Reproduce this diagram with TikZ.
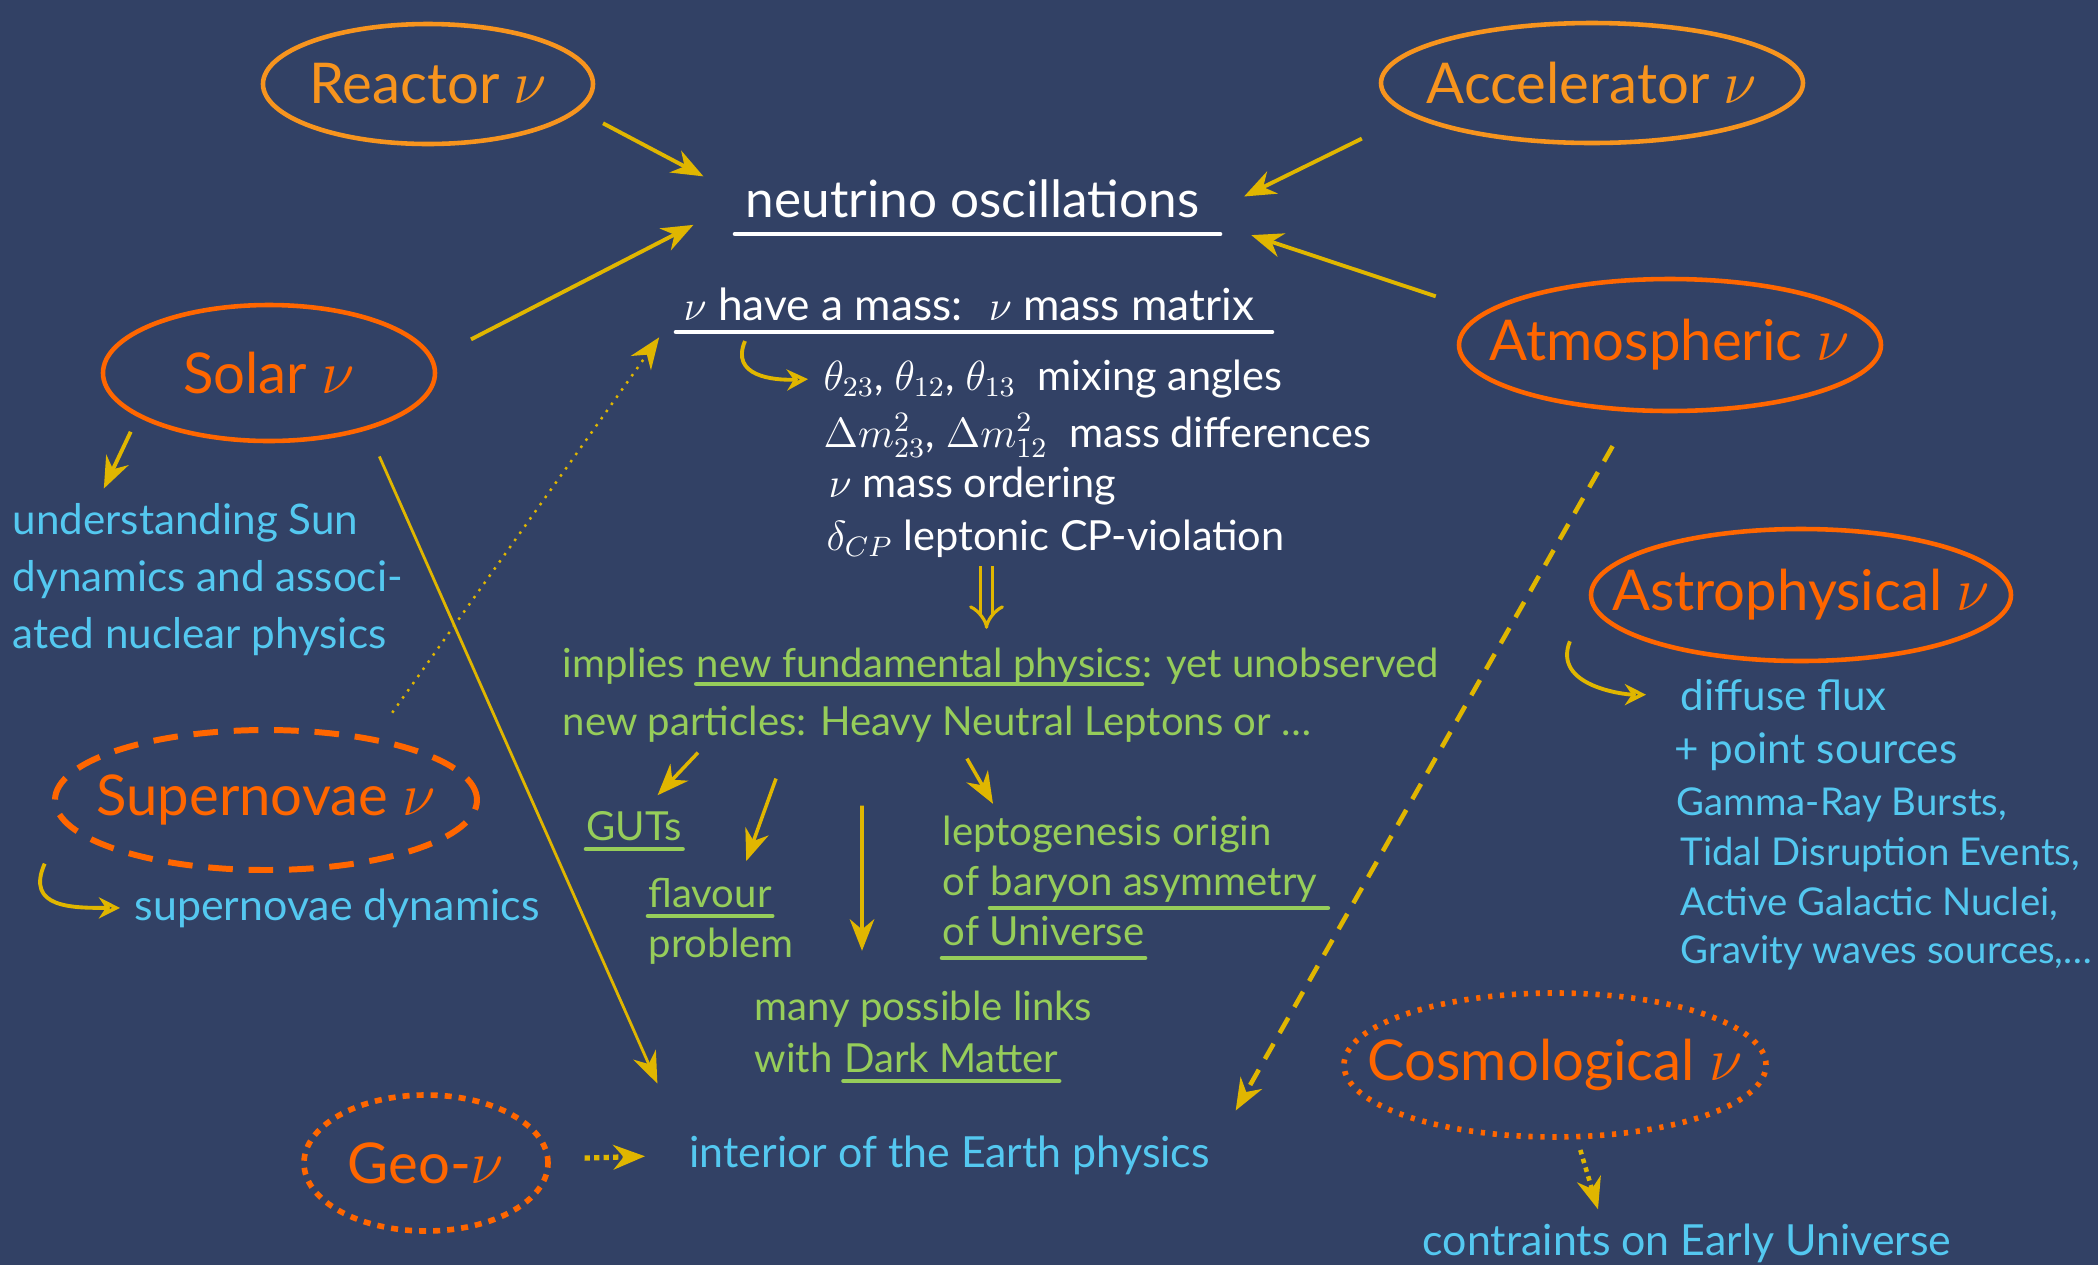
\documentclass[tikz,border=0pt]{standalone}
\usepackage{fontspec}
\setmainfont{Lato}
\usepackage{tikz}
\usetikzlibrary{shapes.geometric,arrows.meta,positioning,calc}

\definecolor{bgblue}{RGB}{50,65,101}
\definecolor{srclight}{RGB}{247,148,30}
\definecolor{srcdeep}{RGB}{255,102,0}
\definecolor{arrowyel}{RGB}{224,182,0}
\definecolor{txtcyan}{RGB}{84,200,240}
\definecolor{txtgreen}{RGB}{150,205,90}

\newcommand{\srclabel}[1]{\makebox[0pt]{#1}}

\begin{document}
\begin{tikzpicture}[
    x=0.1mm, y=-0.1mm,
    src/.style={ellipse, draw, line width=1.3pt, inner sep=0pt, font=\fontsize{16}{19}\selectfont},
    wtext/.style={text=white, inner sep=0pt, anchor=base west},
    listtext/.style={wtext, font=\fontsize{11.8}{14}\selectfont},
    idea/.style={text=txtgreen, inner sep=0pt, anchor=base west, font=\fontsize{11.4}{14}\selectfont},
    note/.style={text=txtcyan, inner sep=0pt, anchor=base west, font=\fontsize{12.2}{14}\selectfont},
    smallnote/.style={note, font=\fontsize{10.9}{13}\selectfont},
    arrow/.style={draw=arrowyel, line width=1.1pt, -{Stealth[length=9pt,width=7pt]}},
    hook/.style={draw=arrowyel, line width=1.1pt, -{Stealth[open,length=6pt,width=6pt]}},
    chalk/.style={line width=1.3pt, line cap=round}
]
\fill[bgblue] (0,0) rectangle (2098,1265);

% Sources
\node[src, draw=srclight, text=srclight, minimum width=33mm, minimum height=12mm] (reactor) at (428,84) {\srclabel{Reactor $\nu$}};
\node[src, draw=srclight, text=srclight, minimum width=42.2mm, minimum height=12mm] (accel) at (1592,83) {\srclabel{Accelerator $\nu$}};
\node[src, draw=srcdeep, text=srcdeep, minimum width=33.2mm, minimum height=13.6mm] (solar) at (269,373) {\srclabel{Solar $\nu$}};
\node[src, draw=srcdeep, text=srcdeep, minimum width=42.2mm, minimum height=13.2mm] (atmos) at (1670,345) {\srclabel{Atmospheric $\nu$}};
\node[src, draw=srcdeep, text=srcdeep, minimum width=42mm, minimum height=13.2mm] (astro) at (1801,595) {\srclabel{Astrophysical $\nu$}};
\node[src, draw=srcdeep, text=srcdeep, minimum width=42.2mm, minimum height=14mm, line width=1.7pt, dash pattern=on 7pt off 4.5pt] (snova) at (266,800) {\srclabel{Supernovae $\nu$}};
\node[src, draw=srcdeep, text=srcdeep, minimum width=24.4mm, minimum height=13.6mm, line width=1.6pt, dash pattern=on 2pt off 2pt] (geo) at (426,1163) {\srclabel{Geo-$\nu$}};
\node[src, draw=srcdeep, text=srcdeep, minimum width=42.2mm, minimum height=14.4mm, line width=1.6pt, dash pattern=on 1.2pt off 2.2pt] (cosmo) at (1555,1065) {\srclabel{Cosmological $\nu$}};

% Oscillations
\node[wtext, font=\fontsize{14.6}{18}\selectfont] (osc) at (745,217) {neutrino oscillations};
\node[wtext, font=\fontsize{12.6}{15}\selectfont] (mass) at (683,320) {$\nu$ have a mass: \ $\nu$ mass matrix};
\node[listtext] (theta) at (823,390) {$\theta_{23}$, $\theta_{12}$, $\theta_{13}$ \ mixing angles};
\node[listtext] (dmsq) at (823,447) {$\Delta m^2_{23}$, $\Delta m^2_{12}$ \ mass differences};
\node[listtext] (order) at (828,497) {$\nu$ mass ordering};
\node[listtext] (dcp) at (826,550) {$\delta_{CP}$ leptonic CP-violation};
\draw[chalk, white] ([xshift=-1mm,yshift=-1.7mm]osc.base west) -- ([xshift=2mm,yshift=-1.7mm]osc.base east);
\draw[chalk, white] ([xshift=-0.7mm,yshift=-1.2mm]mass.base west) -- ([xshift=1.7mm,yshift=-1.2mm]mass.base east);

% New physics
\node[idea] (implies) at (562,677) {implies\ \null};
\node[idea] (nfp) at (implies.base east) {new fundamental physics};
\node[idea] (unobs) at (nfp.base east) {: yet unobserved};
\node[idea] (particles) at (562,735) {new particles: Heavy Neutral Leptons or \dots};
\node[idea] (guts) at (586,840) {GUTs};
\node[idea] (flavour) at (648,907) {flavour};
\node[idea] (problem) at (648,957) {problem};
\node[idea] (lepto) at (942,845) {leptogenesis origin};
\node[idea] (ofb) at (942,895) {of\ \null};
\node[idea] (baryon) at (ofb.base east) {baryon asymmetry};
\node[idea] (universe) at (942,945) {of Universe};
\node[idea] (links) at (754,1020) {many possible links};
\node[idea] (with) at (754,1072) {with\ \null};
\node[idea] (darkm) at (with.base east) {Dark Matter};
\draw[chalk, txtgreen] ([yshift=-0.7mm]nfp.base west) -- ([yshift=-0.7mm]nfp.base east);
\draw[chalk, txtgreen] ([yshift=-0.9mm]guts.base west) -- ([yshift=-0.9mm]guts.base east);
\draw[chalk, txtgreen] ([yshift=-0.9mm]flavour.base west) -- ([yshift=-0.9mm]flavour.base east);
\draw[chalk, txtgreen] ([yshift=-1.3mm]baryon.base west) -- ([xshift=1mm,yshift=-1.3mm]baryon.base east);
\draw[chalk, txtgreen] ([yshift=-1.3mm]universe.base west) -- ([yshift=-1.3mm]universe.base east);
\draw[chalk, txtgreen] ([yshift=-0.9mm]darkm.base west) -- ([yshift=-0.9mm]darkm.base east);

% Other physics
\node[note, anchor=north west, align=left, font=\fontsize{12}{16.2}\selectfont] (sun) at (12,503) {understanding Sun\\dynamics and associ-\\ated nuclear physics};
\node[note] (sndyn) at (134,920) {supernovae dynamics};
\node[note] (interior) at (689,1167) {interior of the Earth physics};
\node[note, font=\fontsize{12}{14}\selectfont] (diffuse) at (1680,710) {diffuse flux};
\node[note, font=\fontsize{12}{14}\selectfont] (points) at (1674,763) {+ point sources};
\node[smallnote] (grb) at (1676,815) {Gamma-Ray Bursts,};
\node[smallnote] (tde) at (1680,865) {Tidal Disruption Events,};
\node[smallnote] (agn) at (1680,915) {Active Galactic Nuclei,};
\node[smallnote] (gw) at (1680,963) {Gravity waves sources,\dots};
\node[note] (early) at (1422,1255) {contraints on Early Universe};

% Arrows into oscillations
\draw[arrow, shorten <=2.7mm, shorten >=4.7mm] (reactor.-10) -- (osc.west);
\draw[arrow, shorten <=4.2mm, shorten >=5.8mm] (solar.5) -- (osc.west);
\draw[arrow, shorten <=5.3mm, shorten >=4.9mm] (accel.190) -- (osc.south east);
\draw[arrow, shorten <=5mm, shorten >=5.4mm] (atmos.170) -- (osc.south east);

% Arrows down the middle
\draw[hook, shorten >=1.5mm] ([xshift=6.2mm,yshift=-2mm]mass.south west) .. controls +(-15,35) and +(-50,2) .. (theta.west);
\draw[draw=arrowyel, double=bgblue, double distance=2.5pt, line width=0.9pt, -{Implies}] ($(dcp.south -| osc.south)+(14,8)$) -- ($(implies.north -| osc.south)+(14,-18)$);
\draw[arrow, line width=1pt] ([xshift=13.6mm,yshift=-1mm]particles.south west) -- ([xshift=-2.5mm,yshift=1.5mm]guts.north east);
\draw[arrow, line width=1pt] ([xshift=21.4mm,yshift=-3.6mm]particles.south west) -- ([xshift=-2.6mm,yshift=1.6mm]flavour.north east);
\draw[arrow, line width=1pt] ([xshift=30mm,yshift=-6.3mm]particles.south west) -- ([xshift=10.8mm,yshift=3.9mm]links.north west);
\draw[arrow, line width=1pt] ([xshift=40.5mm,yshift=-1.6mm]particles.south west) -- ([xshift=5.1mm,yshift=1.1mm]lepto.north west);

% Arrows to the other physics
\draw[arrow, shorten <=1mm, shorten >=1.6mm] ([xshift=-1.5mm]solar.south west) -- ([xshift=8.5mm]sun.north west);
\draw[arrow, line width=0.8pt, shorten <=2.9mm, shorten >=7.8mm] (solar.-30) -- (interior.west);
\draw[arrow, line width=0.7pt, dash pattern=on 0.7pt off 1.8pt, shorten <=3mm, shorten >=4.1mm] (snova.30) -- (mass.west);
\draw[arrow, line width=1.3pt, dash pattern=on 5pt off 3.5pt, shorten <=3.9mm, shorten >=5.1mm] (atmos) -- (interior.east);
\draw[arrow, line width=1.5pt, dash pattern=on 1.5pt off 1.2pt, shorten <=3.4mm, shorten >=4.4mm] (geo) -- (interior.west);
\draw[arrow, line width=1.3pt, dash pattern=on 1.3pt off 1.3pt, shorten <=1.1mm, shorten >=1.4mm] (cosmo) -- ([xshift=-8.5mm]early.north);
\draw[hook, shorten >=1.4mm] ([xshift=-7mm,yshift=-1.2mm]snova.south west) .. controls +(-20,45) and +(-60,0) .. (sndyn.west);
\draw[hook, shorten >=3.4mm] ([xshift=-8.1mm,yshift=0.2mm]astro.south west) .. controls +(-18,45) and +(-55,0) .. (diffuse.west);

\end{tikzpicture}
\end{document}
